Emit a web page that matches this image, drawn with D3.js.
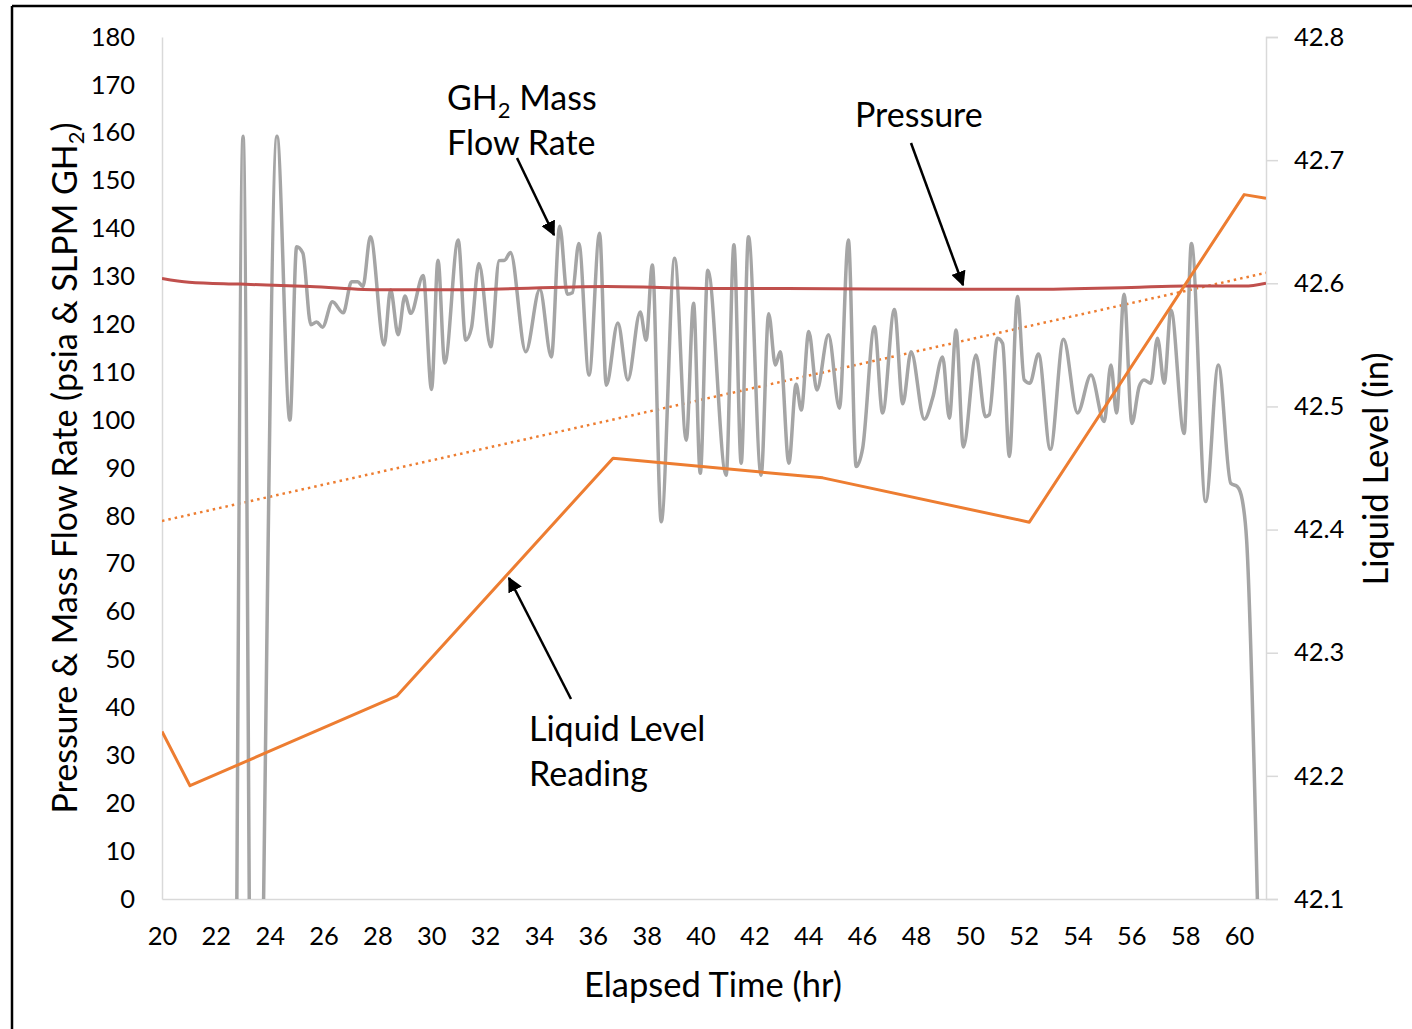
<!DOCTYPE html>
<html>
<head>
<meta charset="utf-8">
<script src="https://cdn.jsdelivr.net/npm/d3@7"></script>
<style>
  body { margin: 0; background: #fff; }
  text { font-family: Lato, "Open Sans", sans-serif; fill: #000; }
</style>
</head>
<body>
<div class="chart"></div>
<script>
var svgWidth = 1412;
var svgHeight = 1029;

var margin = { top: 37, right: 146, bottom: 130, left: 162 };
var width = svgWidth - margin.left - margin.right;
var height = svgHeight - margin.top - margin.bottom;

// ---- data ----
var xTicks = [20, 22, 24, 26, 28, 30, 32, 34, 36, 38, 40, 42, 44, 46, 48, 50, 52, 54, 56, 58, 60];
var leftTicks = [0, 10, 20, 30, 40, 50, 60, 70, 80, 90, 100, 110, 120, 130, 140, 150, 160, 170, 180];
var rightTicks = [42.1, 42.2, 42.3, 42.4, 42.5, 42.6, 42.7, 42.8];

// GH2 mass flow rate (SLPM), left axis
var flowTime = [22.78, 23.01, 23.41, 24.27, 24.75, 25.00, 25.23, 25.53, 25.74, 25.96,
  26.33, 26.73, 27.04, 27.27, 27.46, 27.74, 28.25, 28.49, 28.77, 29.02,
  29.24, 29.70, 30.01, 30.25, 30.50, 31.00, 31.28, 31.49, 31.77, 32.21,
  32.52, 32.73, 32.94, 33.51, 34.03, 34.46, 34.77, 35.05, 35.24, 35.48,
  35.86, 36.25, 36.50, 36.93, 37.30, 37.76, 37.98, 38.21, 38.54, 39.04,
  39.47, 39.74, 39.99, 40.27, 40.95, 41.24, 41.51, 41.78, 42.25, 42.53,
  42.78, 42.96, 43.28, 43.55, 43.74, 44.02, 44.32, 44.75, 45.16, 45.49,
  45.78, 46.02, 46.46, 46.76, 47.20, 47.51, 47.82, 48.31, 48.62, 48.99,
  49.24, 49.49, 49.76, 50.23, 50.58, 50.72, 51.03, 51.22, 51.47, 51.77,
  52.02, 52.23, 52.55, 52.99, 53.48, 54.00, 54.50, 54.99, 55.24, 55.45,
  55.73, 56.02, 56.29, 56.47, 56.72, 56.97, 57.22, 57.47, 57.96, 58.23,
  58.76, 59.23, 59.69, 59.94, 60.12, 60.28, 60.68];
var flowValue = [0, 159.3, -100, 159.3, 100.0, 136.2, 134.9, 119.9, 120.5, 119.4,
  124.7, 122.4, 128.9, 128.9, 127.9, 138.3, 115.7, 127.2, 117.8, 125.9,
  122.3, 130.2, 106.4, 133.4, 111.9, 137.6, 116.7, 119.2, 132.7, 115.3,
  133.3, 133.4, 135.0, 114.3, 127.3, 113.2, 140.5, 126.3, 126.6, 136.9,
  109.4, 139.0, 107.3, 120.3, 108.4, 122.6, 116.7, 132.4, 78.8, 133.8,
  95.8, 124.4, 88.9, 131.3, 88.5, 136.6, 91.0, 138.3, 88.5, 122.2,
  111.5, 114.3, 91.0, 107.5, 102.1, 118.5, 106.3, 117.8, 102.5, 137.6,
  90.3, 94.1, 119.5, 101.5, 123.1, 103.4, 114.3, 100.2, 104.6, 113.2,
  100.4, 118.8, 94.4, 113.6, 100.7, 101.1, 117.1, 116.0, 92.4, 125.8,
  108.4, 107.7, 113.8, 93.9, 116.9, 101.5, 109.4, 99.7, 111.5, 101.5,
  126.3, 99.3, 107.0, 108.4, 107.7, 117.1, 107.7, 123.0, 97.2, 136.9,
  83.0, 111.5, 86.8, 86.1, 83.3, 75.0, 0];

// pressure (psia), left axis
var pressTime = [20, 21, 22.9, 25.5, 28.2, 30.7, 36.5, 40.5, 43, 49.7, 52.2, 56, 58, 60.2, 61];
var pressValue = [129.6, 128.8, 128.4, 127.9, 127.2, 127.2, 127.9, 127.5, 127.5, 127.3, 127.3, 127.7, 128.0, 128.0, 128.6];

// liquid level (in), right axis
var levelTime = [20, 21.04, 28.73, 36.75, 44.54, 52.21, 60.19, 61];
var levelValue = [42.236, 42.192, 42.265, 42.458, 42.442, 42.406, 42.672, 42.669];

// linear trend of liquid level (dotted), end points
var trendTime = [20, 61];
var trendValue = [42.407, 42.6085];

var flowData = flowTime.map((t, i) => ({ t: t, v: flowValue[i] }));
var pressData = pressTime.map((t, i) => ({ t: t, v: pressValue[i] }));
var levelData = levelTime.map((t, i) => ({ t: t, v: levelValue[i] }));
var trendData = trendTime.map((t, i) => ({ t: t, v: trendValue[i] }));

var svg = d3.select(".chart")
  .append("svg")
  .attr("width", svgWidth)
  .attr("height", svgHeight);

// outer frame (top and left edges visible)
svg.append("line").attr("x1", 12).attr("y1", 6).attr("x2", svgWidth).attr("y2", 6)
  .attr("stroke", "#000").attr("stroke-width", 2.5);
svg.append("line").attr("x1", 12).attr("y1", 6).attr("x2", 12).attr("y2", svgHeight)
  .attr("stroke", "#000").attr("stroke-width", 2.5);

var chartGroup = svg.append("g")
  .attr("transform", `translate(${margin.left}, ${margin.top})`);

var xScale = d3.scaleLinear().domain([20, 61]).range([0, width]);
var yLeft = d3.scaleLinear().domain([0, 180]).range([height, 0]);
var yRight = d3.scaleLinear().domain([42.1, 42.8]).range([height, 0]);

// axes
var bottomAxis = d3.axisBottom(xScale).tickValues(xTicks).tickSize(0).tickPadding(28);
var leftAxis = d3.axisLeft(yLeft).tickValues(leftTicks).tickSize(0).tickPadding(27);
var rightAxis = d3.axisRight(yRight).tickValues(rightTicks).tickFormat(d3.format(".1f"))
  .tickSize(12).tickPadding(16);

var xAxisG = chartGroup.append("g")
  .attr("transform", `translate(0, ${height})`)
  .call(bottomAxis);
var yAxisG = chartGroup.append("g").call(leftAxis);
var y2AxisG = chartGroup.append("g")
  .attr("transform", `translate(${width}, 0)`)
  .call(rightAxis);

[xAxisG, yAxisG, y2AxisG].forEach(function(g) {
  g.selectAll("path, line").attr("stroke", "#d9d9d9").attr("stroke-width", 1.5);
  g.selectAll("text").attr("font-size", "25.5px").attr("fill", "#000")
    .style("font-family", "Lato, sans-serif");
});

// clip to plot area
chartGroup.append("clipPath").attr("id", "plotClip")
  .append("rect").attr("x", 0).attr("y", 0).attr("width", width).attr("height", height);

var plot = chartGroup.append("g").attr("clip-path", "url(#plotClip)");

var flowLine = d3.line().x(d => xScale(d.t)).y(d => yLeft(d.v)).curve(d3.curveMonotoneX);
var pressLine = d3.line().x(d => xScale(d.t)).y(d => yLeft(d.v)).curve(d3.curveMonotoneX);
var levelLine = d3.line().x(d => xScale(d.t)).y(d => yRight(d.v));

plot.append("path").datum(trendData)
  .attr("d", levelLine)
  .attr("fill", "none")
  .attr("stroke", "#ed7d31")
  .attr("stroke-width", 2.5)
  .attr("stroke-dasharray", "2.5,4");

plot.append("path").datum(flowData)
  .attr("d", flowLine)
  .attr("fill", "none")
  .attr("stroke", "#a5a5a5")
  .attr("stroke-width", 3.5);

plot.append("path").datum(pressData)
  .attr("d", pressLine)
  .attr("fill", "none")
  .attr("stroke", "#c0504d")
  .attr("stroke-width", 3);

plot.append("path").datum(levelData)
  .attr("d", levelLine)
  .attr("fill", "none")
  .attr("stroke", "#ed7d31")
  .attr("stroke-width", 3)
  .attr("stroke-linejoin", "round");

// axis titles
svg.append("text")
  .attr("x", 713).attr("y", 997)
  .attr("text-anchor", "middle")
  .attr("font-size", "34.5px")
  .text("Elapsed Time (hr)");

var leftTitle = svg.append("text")
  .attr("transform", "translate(77, 468) rotate(-90)")
  .attr("text-anchor", "middle")
  .attr("font-size", "34px");
leftTitle.append("tspan").text("Pressure & Mass Flow Rate (psia & SLPM GH");
leftTitle.append("tspan").attr("font-size", "22px").attr("dy", 7).text("2");
leftTitle.append("tspan").attr("dy", -7).text(")");

svg.append("text")
  .attr("transform", "translate(1388, 469) rotate(-90)")
  .attr("text-anchor", "middle")
  .attr("font-size", "34.5px")
  .text("Liquid Level (in)");

// annotations
var defs = svg.append("defs");
defs.append("marker")
  .attr("id", "arrow")
  .attr("viewBox", "0 0 10 10")
  .attr("refX", 9).attr("refY", 5)
  .attr("markerWidth", 6).attr("markerHeight", 6)
  .attr("orient", "auto")
  .append("path").attr("d", "M0,0 L10,5 L0,10 z").attr("fill", "#000");

var ann1 = svg.append("text").attr("x", 447).attr("y", 110).attr("font-size", "34px");
ann1.append("tspan").text("GH");
ann1.append("tspan").attr("font-size", "22px").attr("dy", 8).text("2");
ann1.append("tspan").attr("dy", -8).text(" Mass");
svg.append("text").attr("x", 447).attr("y", 155).attr("font-size", "34px").text("Flow Rate");

svg.append("text").attr("x", 855).attr("y", 127).attr("font-size", "34px").text("Pressure");

svg.append("text").attr("x", 529).attr("y", 741).attr("font-size", "34px").text("Liquid Level");
svg.append("text").attr("x", 529).attr("y", 786).attr("font-size", "34px").text("Reading");

var arrows = [
  [517, 158, 554, 235],
  [911, 143, 963, 285],
  [571, 699, 509, 578]
];
svg.selectAll(".arrow").data(arrows).enter()
  .append("line")
  .attr("class", "arrow")
  .attr("x1", d => d[0]).attr("y1", d => d[1])
  .attr("x2", d => d[2]).attr("y2", d => d[3])
  .attr("stroke", "#000")
  .attr("stroke-width", 2.5)
  .attr("marker-end", "url(#arrow)");
</script>
</body>
</html>
